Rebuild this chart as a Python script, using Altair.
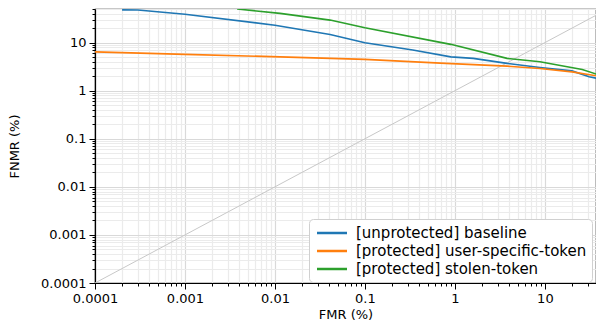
import altair as alt
import pandas as pd

# ---- data ----
series_names = ["[unprotected] baseline", "[protected] user-specific-token", "[protected] stolen-token"]
series_colors = ["#1f77b4", "#ff7f0e", "#2ca02c"]

baseline_fmr = [0.0002, 0.0003, 0.001, 0.01, 0.041, 0.1, 0.34, 0.9, 1.6, 3.8, 8.8, 20, 31, 44]
baseline_fnmr = [48, 47.5, 39, 23, 14.8, 9.9, 7.0, 5.06, 4.7, 3.7, 3.04, 2.58, 1.94, 1.71]

user_fmr = [0.0001, 0.001, 0.0114, 0.1, 0.69, 3.8, 8.8, 20, 44]
user_fnmr = [6.4, 5.7, 5.06, 4.47, 3.75, 3.24, 2.9, 2.46, 1.94]

stolen_fmr = [0.0038, 0.0114, 0.041, 0.1, 0.69, 0.9, 3.8, 8.8, 26, 44]
stolen_fnmr = [50, 40.6, 29.4, 20.3, 10.1, 9.2, 4.7, 4.0, 2.76, 2.0]

diag_vals = [0.0001, 50]

x_domain = [0.0001, 37]
y_domain = [0.0001, 50]

# ---- tables ----
rows = []
for name, xs, ys in zip(series_names,
                        [baseline_fmr, user_fmr, stolen_fmr],
                        [baseline_fnmr, user_fnmr, stolen_fnmr]):
    for a, b in zip(xs, ys):
        rows.append({"series": name, "fmr": a, "fnmr": b})
df = pd.DataFrame(rows)
diag = pd.DataFrame({"fmr": diag_vals, "fnmr": diag_vals})

def log_ticks(lo_exp, hi):
    vals = []
    for e in range(lo_exp, 3):
        for m in range(1, 10):
            v = round(m * 10 ** e, 10)
            if v <= hi:
                vals.append(v)
    return vals

x_ticks = log_ticks(-4, x_domain[1])
y_ticks = log_ticks(-4, y_domain[1])

is_major = "abs(log(datum.value)/LN10 - round(log(datum.value)/LN10)) < 0.000001"
label_expr = f"({is_major}) ? toString(datum.value) : ''"

def make_axis(title, values, **kw):
    return alt.Axis(
        title=title,
        values=values,
        labelExpr=label_expr,
        grid=True,
        gridColor={"condition": {"test": is_major, "value": "#d9d9d9"}, "value": "#ebebeb"},
        gridWidth=1.2,
        tickSize={"condition": {"test": is_major, "value": 6}, "value": 3},
        tickColor="#000000",
        domainColor="#000000",
        domainWidth=1.2,
        labelFont="DejaVu Sans",
        labelFontSize=13,
        labelColor="#000000",
        titleFont="DejaVu Sans",
        titleFontSize=13,
        titleFontWeight="normal",
        titleColor="#000000",
        labelFlush=False,
        labelOverlap=False,
        **kw,
    )

xs = alt.X("fmr:Q", scale=alt.Scale(type="log", domain=x_domain, nice=False),
           axis=make_axis("FMR (%)", x_ticks, labelPadding=3, titlePadding=3))
ys = alt.Y("fnmr:Q", scale=alt.Scale(type="log", domain=y_domain, nice=False),
           axis=make_axis("FNMR (%)", y_ticks, labelPadding=3, titlePadding=19))

diag_layer = alt.Chart(diag).mark_line(color="#c8c8c8", strokeWidth=1, clip=True).encode(x=xs, y=ys)

curves = alt.Chart(df).mark_line(strokeWidth=1.6, clip=True).encode(
    x=xs, y=ys,
    color=alt.Color("series:N",
                    scale=alt.Scale(domain=series_names, range=series_colors),
                    sort=series_names,
                    legend=alt.Legend(
                        title=None,
                        orient="none",
                        legendX=214,
                        legendY=210,
                        symbolType="M-2,0H2",
                        symbolStrokeWidth=2.5,
                        symbolSize=225,
                        symbolOffset=9,
                        labelFont="DejaVu Sans",
                        labelFontSize=15,
                        labelColor="#000000",
                        labelLimit=400,
                        fillColor="#ffffff",
                        strokeColor="#d0d0d0",
                        cornerRadius=4,
                        padding=5,
                        rowPadding=1,
                        labelOffset=15,
                    )),
)

chart = alt.layer(diag_layer, curves).properties(
    width=501, height=274,
    autosize=alt.AutoSizeParams(type="none"),
    padding={"left": 87, "top": 1, "right": 0, "bottom": 40},
).configure_view(stroke="#222222", strokeWidth=1.2)

chart.save("out.html", embed_options={"renderer": "svg", "actions": False})
